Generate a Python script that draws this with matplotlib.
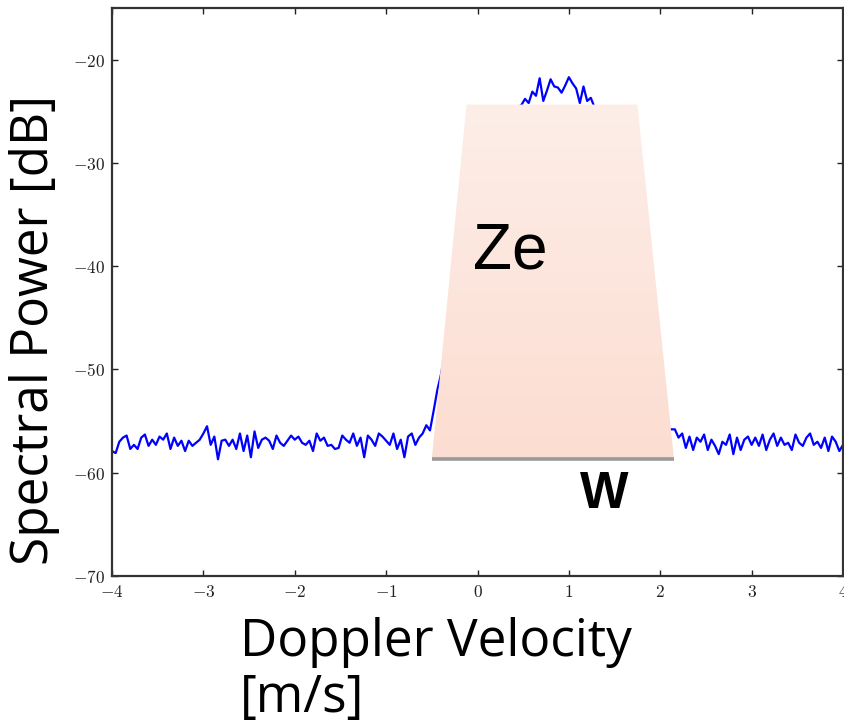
import numpy as np
import matplotlib
matplotlib.use("Agg")
import matplotlib.pyplot as plt
from matplotlib.patches import Polygon
from matplotlib.ticker import FuncFormatter

plt.rcParams['mathtext.fontset'] = 'cm'

# spectrum: 201 bins from -4 to 4 m/s
left_noise = [
    -57.9, -58.1, -57.0, -56.6, -56.4, -57.7, -57.3, -57.7, -56.6, -56.3,
    -57.4, -56.8, -57.3, -56.5, -56.8, -56.2, -57.7, -56.6, -57.4, -56.9,
    -57.9, -56.9, -57.4, -57.1, -56.8, -56.2, -55.5, -57.3, -56.5, -58.7,
    -56.9, -56.8, -57.4, -56.8, -57.7, -56.2, -57.9, -56.4, -58.5, -56.0,
    -57.6, -56.8, -56.6, -56.9, -57.7, -56.4, -57.1, -57.4, -56.9, -56.4,
    -56.8, -56.5, -57.1, -57.3, -56.9, -57.9, -56.2, -56.9, -56.6, -57.4,
    -57.3, -57.7, -57.6, -56.4, -56.8, -57.1, -56.2, -57.4, -56.6, -58.5,
    -56.4, -56.8, -57.4, -56.2, -56.5, -56.9, -57.3, -56.2, -57.7, -56.8,
    -58.5, -56.5, -56.2, -57.3, -56.6,
]
peak = [
    -56.2, -55.4, -55.9, -54.0, -52.0, -50.5, -48.5, -46.0, -43.0, -40.0,
    -37.0, -34.0, -31.5, -29.5, -28.2, -27.2, -26.4, -25.9, -25.5, -25.2,
    -25.0, -24.9, -24.8, -24.7, -24.6, -24.5, -24.6, -24.4,
    -23.8, -24.2, -23.1, -23.5, -21.8, -24.0, -23.0, -21.9, -22.6, -22.7,
    -23.2, -22.5, -21.7, -22.3, -22.8, -24.2, -22.6, -24.0, -23.7, -24.6,
    -25.0, -25.4, -26.0, -26.8, -27.8, -29.1, -30.7, -32.6, -34.8, -37.3,
    -40.0, -42.8, -45.5, -48.0, -50.1, -51.9, -53.3, -54.4, -55.2, -55.7,
    -55.8,
]
right_noise = [
    -55.8, -56.6, -56.2, -57.6, -56.5, -57.8, -56.6, -57.0, -56.3, -57.8,
    -56.8, -57.4, -58.2, -57.0, -57.3, -56.3, -58.2, -56.6, -57.8, -56.8,
    -56.5, -57.3, -56.6, -57.4, -56.3, -57.8, -56.8, -56.2, -57.4, -56.6,
    -57.3, -57.1, -57.8, -56.3, -57.1, -57.4, -56.6, -56.2, -57.3, -57.0,
    -57.6, -56.6, -57.9, -56.5, -57.0, -57.9, -57.3,
]
power = np.array(left_noise + peak + right_noise)
velocity = np.linspace(-4, 4, len(power))

# sketch of the moments: Ze as the area, W as the width
ze_top = -24.35
w_base = -58.65
top_edges = [-0.12, 1.75]
base_edges = [-0.50, 2.15]

fig = plt.figure(figsize=(8.44, 7.24), dpi=100)
ax = fig.add_axes([112/844, 148/724, 731/844, 568/724])

ax.plot(velocity, power, color='#0000ff', lw=1.6, zorder=2)

verts = [(base_edges[0], w_base), (top_edges[0], ze_top),
         (top_edges[1], ze_top), (base_edges[1], w_base)]
poly = Polygon(verts, closed=True, facecolor='none', edgecolor='none', zorder=3)
ax.add_patch(poly)
grad = np.linspace(0, 1, 256).reshape(-1, 1)
cmap = matplotlib.colors.LinearSegmentedColormap.from_list(
    'ze', ['#fdeee8', '#fcddd1'])
img = ax.imshow(grad, cmap=cmap, aspect='auto', origin='upper',
                extent=[base_edges[0], base_edges[1], w_base, ze_top], zorder=3)
img.set_clip_path(poly)
ax.plot(base_edges, [w_base, w_base], color='#9a9a9a', lw=2.6,
        solid_capstyle='butt', zorder=4)

ax.text(-0.05, -40.2, 'Ze', family='Liberation Sans', fontsize=46,
        ha='left', va='baseline', zorder=5)
ax.text(1.39, -63.4, 'W', family='Liberation Sans', fontweight='bold',
        fontsize=37, ha='center', va='baseline', zorder=5)

ax.set_xlim(-4, 4)
ax.set_ylim(-70, -15)
ax.set_xticks(range(-4, 5))
ax.set_yticks(range(-70, -19, 10))
fmt = FuncFormatter(lambda v, p: r'$%d$' % v)
ax.xaxis.set_major_formatter(fmt)
ax.yaxis.set_major_formatter(fmt)
ax.tick_params(direction='in', length=4.5, width=1, labelsize=12.5,
               top=True, right=True, pad=5, colors='#222222')
for s in ax.spines.values():
    s.set_linewidth(1.6)
    s.set_color('#333333')

fig.text(35/844, 1 - 330/724, 'Spectral Power [dB]', family='Open Sans',
         fontsize=37, rotation=90, ha='center', va='center')
fig.text(240/844, 1 - 617/724, 'Doppler Velocity\n[m/s]', family='Open Sans',
         fontsize=37, ha='left', va='top', linespacing=1.12)

fig.savefig('out.png', dpi=100)
